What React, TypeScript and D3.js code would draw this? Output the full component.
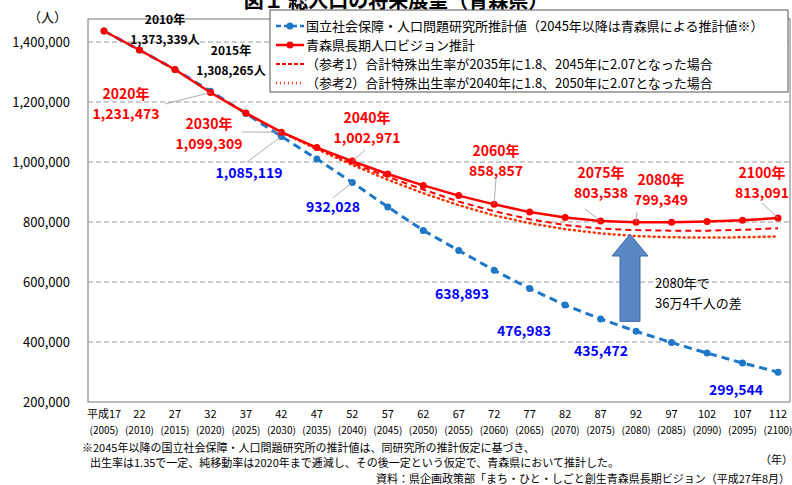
import { useEffect, useRef } from 'react';
import * as d3 from 'd3';

const years = [2005, 2010, 2015, 2020, 2025, 2030, 2035, 2040, 2045, 2050, 2055, 2060, 2065, 2070, 2075, 2080, 2085, 2090, 2095, 2100];
const heisei = ['平成17', '22', '27', '32', '37', '42', '47', '52', '57', '62', '67', '72', '77', '82', '87', '92', '97', '102', '107', '112'];
const ipss = [1436657, 1373339, 1308265, 1236000, 1162000, 1085119, 1010000, 932028, 850000, 772000, 705000, 638893, 578000, 523000, 476983, 435472, 398000, 363000, 330000, 299544];
const vision = [1436657, 1373339, 1308265, 1231473, 1163000, 1099309, 1048000, 1002971, 960000, 922000, 888000, 858857, 833000, 815000, 803538, 799349, 799000, 802000, 806000, 813091];
const ref1 = [null, null, null, null, null, 1099309, 1046000, 996000, 951000, 908000, 868000, 836000, 809000, 790000, 778000, 773000, 771000, 771000, 774000, 779000];
const ref2 = [null, null, null, null, null, 1099309, 1043000, 990000, 941000, 896000, 856000, 822000, 796000, 776000, 762000, 753000, 749000, 748000, 749000, 752000];
const yTicks = [200000, 400000, 600000, 800000, 1000000, 1200000, 1400000];

// data labels: year index, series, lines, text position, leader end
const labels: { i: number; s: 'v' | 'b'; lines: string[]; tx: number; ty: number; color: string; lead?: [number, number] }[] = [
  { i: 1, s: 'v', lines: ['2010年', '1,373,339人'], tx: 165, ty: 24, color: '#000' },
  { i: 2, s: 'v', lines: ['2015年', '1,308,265人'], tx: 231, ty: 55, color: '#000' },
  { i: 3, s: 'v', lines: ['2020年', '1,231,473'], tx: 126, ty: 99, color: '#f00', lead: [165, 104] },
  { i: 5, s: 'v', lines: ['2030年', '1,099,309'], tx: 209, ty: 129, color: '#f00', lead: [242, 132] },
  { i: 5, s: 'b', lines: ['1,085,119'], tx: 249, ty: 178, color: '#00f', lead: [247, 162] },
  { i: 7, s: 'v', lines: ['2040年', '1,002,971'], tx: 367, ty: 123, color: '#f00', lead: [365, 150] },
  { i: 7, s: 'b', lines: ['932,028'], tx: 333, ty: 212, color: '#00f', lead: [333, 198] },
  { i: 11, s: 'v', lines: ['2060年', '858,857'], tx: 496, ty: 156, color: '#f00', lead: [496, 178] },
  { i: 11, s: 'b', lines: ['638,893'], tx: 462, ty: 299, color: '#00f' },
  { i: 14, s: 'v', lines: ['2075年', '803,538'], tx: 601, ty: 178, color: '#f00', lead: [585, 209] },
  { i: 15, s: 'v', lines: ['2080年', '799,349'], tx: 661, ty: 185, color: '#f00', lead: [637, 212] },
  { i: 19, s: 'v', lines: ['2100年', '813,091'], tx: 762, ty: 178, color: '#f00', lead: [762, 203] },
  { i: 14, s: 'b', lines: ['476,983'], tx: 524, ty: 336, color: '#00f' },
  { i: 15, s: 'b', lines: ['435,472'], tx: 601, ty: 356, color: '#00f' },
  { i: 19, s: 'b', lines: ['299,544'], tx: 736, ty: 395, color: '#00f' },
];

export default function App() {
  const ref = useRef<SVGSVGElement | null>(null);

  useEffect(() => {
    if (!ref.current) return;
    const svg = d3.select(ref.current);
    svg.selectAll('*').remove();
    const font = "'Liberation Sans Narrow', 'Noto Sans CJK JP', sans-serif";
    svg.attr('font-family', "'Noto Sans CJK JP', sans-serif");

    const x = d3.scalePoint<number>().domain(years).range([104, 778]);
    const y = d3.scaleLinear().domain([200000, 1400000]).range([402, 42]);

    svg.append('text').attr('x', 396).attr('y', 8).attr('text-anchor', 'middle').attr('font-size', 20)
      .attr('font-weight', 'bold').text('図１ 総人口の将来展望（青森県）');

    svg.append('rect').attr('x', 88).attr('y', 19).attr('width', 702).attr('height', 383)
      .attr('fill', 'none').attr('stroke', '#777');

    svg.append('g').selectAll('line').data(yTicks.slice(1)).join('line')
      .attr('x1', 88).attr('x2', 790).attr('y1', (d) => y(d)).attr('y2', (d) => y(d))
      .attr('stroke', '#999').attr('stroke-dasharray', '5,3');

    svg.append('g').selectAll('text').data(yTicks).join('text')
      .attr('x', 70).attr('y', (d) => y(d) + 5).attr('text-anchor', 'end').attr('font-size', 13)
      .attr('font-family', font).text((d) => d3.format(',')(d));
    svg.append('text').attr('x', 28).attr('y', 22).attr('font-size', 13).text('（人）');

    const xl = svg.append('g').attr('font-family', font).attr('font-size', 11).attr('text-anchor', 'middle');
    years.forEach((yr, i) => {
      xl.append('text').attr('x', x(yr)!).attr('y', 418).text(heisei[i]);
      xl.append('text').attr('x', x(yr)!).attr('y', 434).attr('font-size', 10).text(`(${yr})`);
    });

    const line = d3.line<number | null>().defined((d) => d != null)
      .x((_, i) => x(years[i])!).y((d) => y(d as number));

    svg.append('path').datum(ref2).attr('d', line).attr('fill', 'none').attr('stroke', '#ff3300')
      .attr('stroke-width', 2.5).attr('stroke-dasharray', '1,4').attr('stroke-linecap', 'round');
    svg.append('path').datum(ref1).attr('d', line).attr('fill', 'none').attr('stroke', '#f00')
      .attr('stroke-width', 2).attr('stroke-dasharray', '6,4');
    svg.append('path').datum(ipss).attr('d', line).attr('fill', 'none').attr('stroke', '#1f77c8')
      .attr('stroke-width', 3).attr('stroke-dasharray', '8,5');
    svg.append('g').selectAll('circle').data(ipss).join('circle')
      .attr('cx', (_, i) => x(years[i])!).attr('cy', (d) => y(d)).attr('r', 3.5).attr('fill', '#1f77c8');
    svg.append('path').datum(vision).attr('d', line).attr('fill', 'none').attr('stroke', '#f00').attr('stroke-width', 2.5);
    svg.append('g').selectAll('circle').data(vision).join('circle')
      .attr('cx', (_, i) => x(years[i])!).attr('cy', (d) => y(d)).attr('r', 3.5).attr('fill', '#f00');

    // arrow showing the 2080 gap
    const ax = 630;
    const yb = y(435472) - 10, yh = y(700000) + 4, yt = y(799349) + 12;
    svg.append('path')
      .attr('d', `M${ax - 10},${yb} L${ax - 10},${yh} L${ax - 18},${yh} L${ax},${yt} L${ax + 18},${yh} L${ax + 10},${yh} L${ax + 10},${yb} Z`)
      .attr('fill', '#5b87c5').attr('stroke', '#3d6aa8');
    svg.append('text').attr('x', 655).attr('y', 288).attr('font-size', 13).attr('font-family', font).text('2080年で');
    svg.append('text').attr('x', 655).attr('y', 308).attr('font-size', 13).attr('font-family', font).text('36万4千人の差');

    const lg = svg.append('g').attr('font-family', font).attr('font-size', 13);
    lg.append('rect').attr('x', 270).attr('y', 10).attr('width', 518).attr('height', 82).attr('fill', '#fff').attr('stroke', '#555');
    const items = [
      { t: '国立社会保障・人口問題研究所推計値（2045年以降は青森県による推計値※）', c: '#1f77c8', da: '5,3', m: true, w: 2.5 },
      { t: '青森県長期人口ビジョン推計', c: '#f00', da: null, m: true, w: 2.5 },
      { t: '（参考1）合計特殊出生率が2035年に1.8、2045年に2.07となった場合', c: '#f00', da: '4,2', m: false, w: 2 },
      { t: '（参考2）合計特殊出生率が2040年に1.8、2050年に2.07となった場合', c: '#ff3300', da: '1,3', m: false, w: 2.5 },
    ];
    items.forEach((it, k) => {
      const yy = 26 + k * 19;
      const l = lg.append('line').attr('x1', 276).attr('x2', 304).attr('y1', yy).attr('y2', yy)
        .attr('stroke', it.c).attr('stroke-width', it.w);
      if (it.da) l.attr('stroke-dasharray', it.da);
      if (it.m) lg.append('circle').attr('cx', 290).attr('cy', yy).attr('r', 3.5).attr('fill', it.c);
      lg.append('text').attr('x', 306).attr('y', yy + 5).text(it.t);
    });

    const al = svg.append('g').attr('font-family', font).attr('font-size', 14).attr('font-weight', 'bold').attr('text-anchor', 'middle');
    labels.forEach((lb) => {
      const px = x(years[lb.i])!;
      const py = y((lb.s === 'v' ? vision : ipss)[lb.i]);
      if (lb.lead) {
        svg.append('line').attr('x1', px).attr('y1', py).attr('x2', lb.lead[0]).attr('y2', lb.lead[1])
          .attr('stroke', '#999').attr('stroke-width', 0.8);
      }
      lb.lines.forEach((t, j) => {
        al.append('text').attr('x', lb.tx).attr('y', lb.ty + j * 20)
          .attr('fill', lb.color).attr('font-size', lb.color === '#000' ? 12 : 14).text(t);
      });
    });

    const nt = svg.append('g').attr('font-size', 11);
    nt.append('text').attr('x', 82).attr('y', 452).text('※2045年以降の国立社会保障・人口問題研究所の推計値は、同研究所の推計仮定に基づき、');
    nt.append('text').attr('x', 90).attr('y', 467).text('出生率は1.35で一定、純移動率は2020年まで逓減し、その後一定という仮定で、青森県において推計した。');
    nt.append('text').attr('x', 760).attr('y', 464).text('（年）');
    nt.append('text').attr('x', 790).attr('y', 483).attr('text-anchor', 'end').text('資料：県企画政策部「まち・ひと・しごと創生青森県長期ビジョン（平成27年8月）');
  }, []);

  return <svg ref={ref} width={792} height={485} style={{ position: 'absolute', left: 0, top: 0, background: '#fff' }} />;
}
